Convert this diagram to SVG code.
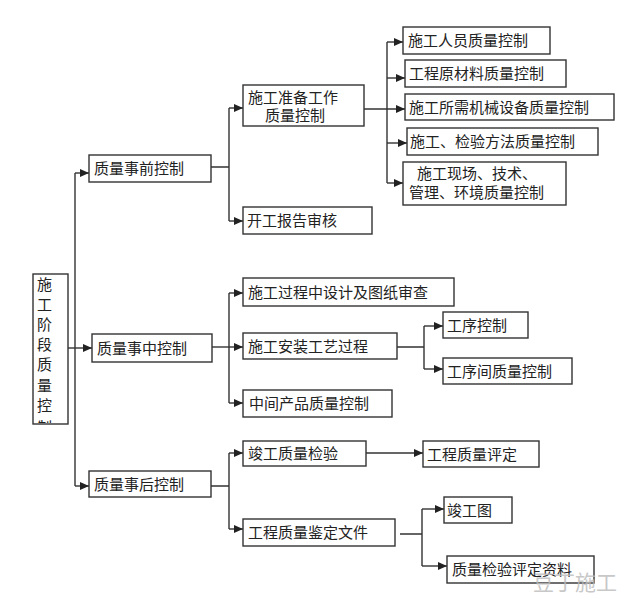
<svg xmlns="http://www.w3.org/2000/svg" width="640" height="612" viewBox="0 0 640 612">
<defs>
<style>
.box{fill:#fff;stroke:#333;stroke-width:1.4}
.t{font-family:"Noto Sans CJK SC","Noto Sans CJK TC",sans-serif;font-size:15px;fill:#222}
.c{fill:none;stroke:#333;stroke-width:1.4}
.a{fill:none;stroke:#333;stroke-width:1.4;marker-end:url(#arr)}
.wm{font-family:"Noto Sans CJK SC",sans-serif;font-size:21px;fill:#bbb;opacity:0.8}
</style>
<marker id="arr" markerUnits="userSpaceOnUse" markerWidth="10" markerHeight="10" refX="9" refY="4" orient="auto">
<path d="M0,0 L9,4 L0,8 z" fill="#222"/>
</marker>
<clipPath id="vclip"><rect x="33" y="274" width="35" height="149"/></clipPath>
</defs>
<rect width="640" height="612" fill="#fff"/>
<g id="connectors">
<path class="c" d="M75,173 V486"/>
<path class="a" d="M75,173 H89"/>
<path class="a" d="M75,486 H89"/>
<path class="a" d="M68,348 H92"/>
<path class="c" d="M211,167 H229 M229,108 V221"/>
<path class="a" d="M229,108 H243"/>
<path class="a" d="M229,221 H243"/>
<path class="a" d="M364,109 H405"/>
<path class="c" d="M387,42 V183"/>
<path class="a" d="M387,42 H403"/>
<path class="a" d="M387,78 H405"/>
<path class="a" d="M387,143 H407"/>
<path class="a" d="M387,183 H403"/>
<path class="a" d="M212,347 H243"/>
<path class="c" d="M229,293 V403"/>
<path class="a" d="M229,293 H243"/>
<path class="a" d="M229,403 H243"/>
<path class="c" d="M397,347 H424 M424,326 V369"/>
<path class="a" d="M424,326 H443"/>
<path class="a" d="M424,369 H443"/>
<path class="c" d="M211,486 H229 M229,453 V529"/>
<path class="a" d="M229,453 H243"/>
<path class="a" d="M229,529 H243"/>
<path class="a" d="M366,453 H423"/>
<path class="c" d="M400,534 H422 M422,509 V566"/>
<path class="a" d="M422,509 H444"/>
<path class="a" d="M422,566 H447"/>
</g>
<g id="root">
<rect class="box" x="33" y="274" width="35" height="150"/>
<g clip-path="url(#vclip)">
<text class="t" x="37" y="289.5">施</text>
<text class="t" x="37" y="309.7">工</text>
<text class="t" x="37" y="329.9">阶</text>
<text class="t" x="37" y="350.1">段</text>
<text class="t" x="37" y="370.3">质</text>
<text class="t" x="37" y="390.5">量</text>
<text class="t" x="37" y="410.7">控</text>
<text class="t" x="37" y="433">制</text>
</g>
</g>
<g id="n-qian"><rect class="box" x="89" y="155" width="122" height="27"/><text class="t" x="94" y="174">质量事前控制</text></g>
<g id="n-zhunbei"><rect class="box" x="243" y="85" width="121" height="41"/><text class="t" x="248" y="102.5">施工准备工作</text><text class="t" x="265" y="120.5">质量控制</text></g>
<g id="n-kaigong"><rect class="box" x="243" y="207" width="129" height="27"/><text class="t" x="247" y="226">开工报告审核</text></g>
<g id="n-renyuan"><rect class="box" x="403" y="27" width="147" height="27"/><text class="t" x="408" y="46">施工人员质量控制</text></g>
<g id="n-cailiao"><rect class="box" x="405" y="60" width="161" height="27"/><text class="t" x="409" y="79">工程原材料质量控制</text></g>
<g id="n-jixie"><rect class="box" x="405" y="94" width="209" height="26"/><text class="t" x="409" y="112.5">施工所需机械设备质量控制</text></g>
<g id="n-fangfa"><rect class="box" x="407" y="128" width="191" height="27"/><text class="t" x="410" y="147">施工、检验方法质量控制</text></g>
<g id="n-xianchang"><rect class="box" x="403" y="162" width="163" height="43"/><text class="t" x="417" y="178.5">施工现场、技术、</text><text class="t" x="409" y="198">管理、环境质量控制</text></g>
<g id="n-zhong"><rect class="box" x="92" y="334" width="120" height="28"/><text class="t" x="97" y="353.5">质量事中控制</text></g>
<g id="n-tuzhi"><rect class="box" x="243" y="278" width="211" height="28"/><text class="t" x="248" y="297.5">施工过程中设计及图纸审查</text></g>
<g id="n-anzhuang"><rect class="box" x="243" y="333" width="154" height="26"/><text class="t" x="248" y="351.5">施工安装工艺过程</text></g>
<g id="n-zhongjian"><rect class="box" x="243" y="390" width="149" height="27"/><text class="t" x="249" y="409">中间产品质量控制</text></g>
<g id="n-gongxu"><rect class="box" x="443" y="312" width="85" height="26"/><text class="t" x="447" y="330.5">工序控制</text></g>
<g id="n-gongxujian"><rect class="box" x="443" y="358" width="129" height="26"/><text class="t" x="447" y="376.5">工序间质量控制</text></g>
<g id="n-hou"><rect class="box" x="89" y="471" width="122" height="26"/><text class="t" x="94" y="489.5">质量事后控制</text></g>
<g id="n-jungong"><rect class="box" x="243" y="441" width="123" height="25"/><text class="t" x="248" y="459">竣工质量检验</text></g>
<g id="n-jianding"><rect class="box" x="243" y="519" width="152" height="27"/><text class="t" x="248" y="538">工程质量鉴定文件</text></g>
<g id="n-pingding"><rect class="box" x="423" y="441" width="116" height="26"/><text class="t" x="427" y="459.5">工程质量评定</text></g>
<g id="n-jungongtu"><rect class="box" x="444" y="497" width="68" height="26"/><text class="t" x="447" y="515.5">竣工图</text></g>
<g id="n-ziliao"><rect class="box" x="447" y="556" width="147" height="27"/><text class="t" x="452" y="575">质量检验评定资料</text></g>
<text class="wm" x="533" y="590">豆丁施工</text>
</svg>
